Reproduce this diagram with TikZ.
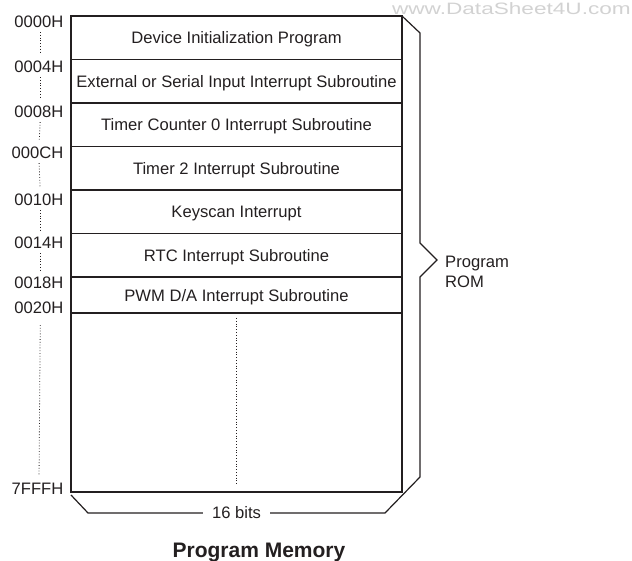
\documentclass[tikz,border=0pt]{standalone}
\usepackage{fontspec}
\setmainfont{Liberation Sans}
\usepackage{tikz}
\usetikzlibrary{positioning}
\definecolor{ink}{HTML}{231F20}
\newcommand{\memfont}{\fontsize{16.6}{20.5}\selectfont}
\tikzset{
    memrow/.style={
        draw=ink,
        line width=1.2pt,
        minimum width=331pt,
        minimum height=43.5pt,
        inner sep=0pt,
        outer sep=0pt,
        text height=12.5pt,
        text depth=0pt,
        font=\memfont,
        text=ink
    },
    addr/.style={anchor=east, inner sep=0pt, font=\memfont, text=ink},
    addrgap/.style={ink, dotted, line width=0.8pt, shorten <=4pt, shorten >=7pt},
    bracket/.style={draw=ink, line width=1.2pt}
}

\begin{document}
\begin{tikzpicture}[x=1pt, y=-1pt]
    \useasboundingbox (0,0) rectangle (632,561);
    % Memory rows
    \node[memrow] (r0) at (236.5,37.75) {Device Initialization Program};
    \node[memrow, below=0pt of r0] (r1) {External or Serial Input Interrupt Subroutine};
    \node[memrow, below=0pt of r1] (r2) {Timer Counter 0 Interrupt Subroutine};
    \node[memrow, below=0pt of r2] (r3) {Timer 2 Interrupt Subroutine};
    \node[memrow, below=0pt of r3] (r4) {Keyscan Interrupt};
    \node[memrow, below=0pt of r4] (r5) {RTC Interrupt Subroutine};
    \node[memrow, below=0pt of r5, minimum height=36pt] (r6) {PWM D/A Interrupt Subroutine};
    \node[memrow, below=0pt of r6, minimum height=179pt] (r7) {};
    \draw[addrgap, shorten <=5pt, shorten >=7pt] (r7.north) -- (r7.south);

    % Addresses
    \node[addr] (a0) at (63.5,22) {0000H};
    \node[addr] (a1) at (63.5,67) {0004H};
    \node[addr] (a2) at (63.5,112) {0008H};
    \node[addr] (a3) at (63.5,153) {000CH};
    \node[addr] (a4) at (63.5,200) {0010H};
    \node[addr] (a5) at (63.5,243) {0014H};
    \node[addr] (a6) at (63.5,283) {0018H};
    \node[addr] (a7) at (63.5,308) {0020H};
    \node[addr] (a8) at (63.5,489) {7FFFH};
    \draw[addrgap] ([xshift=1.5pt]a0.south) -- ([xshift=1.5pt]a1.north);
    \draw[addrgap] ([xshift=1.5pt]a1.south) -- ([xshift=1.5pt]a2.north);
    \draw[addrgap] ([xshift=1.5pt]a2.south) -- ([xshift=1.5pt]a3.north);
    \draw[addrgap] ([xshift=1.5pt]a3.south) -- ([xshift=1.5pt]a4.north);
    \draw[addrgap] ([xshift=1.5pt]a4.south) -- ([xshift=1.5pt]a5.north);
    \draw[addrgap] ([xshift=1.5pt]a5.south) -- ([xshift=1.5pt]a6.north);
    \draw[addrgap, shorten <=3pt, shorten >=16pt] ([xshift=1.5pt]a6.south) -- ([xshift=1.5pt]a7.north);
    \draw[addrgap, shorten <=11pt, shorten >=7pt] ([xshift=1.5pt]a7.south) -- ([xshift=1.5pt]a8.north);

    % Brackets
    \node[font=\memfont, text=ink, inner xsep=9pt, inner ysep=0pt] (bits) at (236.5,513) {16 bits};
    \node[font=\memfont, text=ink, align=left, anchor=west, inner sep=0pt] (rom) at (445,272) {Program\\ROM};
    \coordinate (romtip) at (437,260);
    \draw[bracket] (r0.north east) -- (420,33) -- (420,243) -- (romtip) -- (420,277)
        -- (420,477) -- (385,513) -- (bits.east);
    \draw[bracket] (bits.west) -- (88,513) -- ([yshift=-3pt]r7.south west);

    % Caption
    \node[font=\bfseries\fontsize{21}{25}\selectfont, text=ink, anchor=base] (title) at (259,557) {Program Memory};
    \node[text=gray!35, font=\fontsize{16.5}{18}\selectfont, anchor=east, inner sep=0pt] (wm) at (631,9) {\scalebox{1.37}[1]{www.DataSheet4U.com}};
\end{tikzpicture}
\end{document}
